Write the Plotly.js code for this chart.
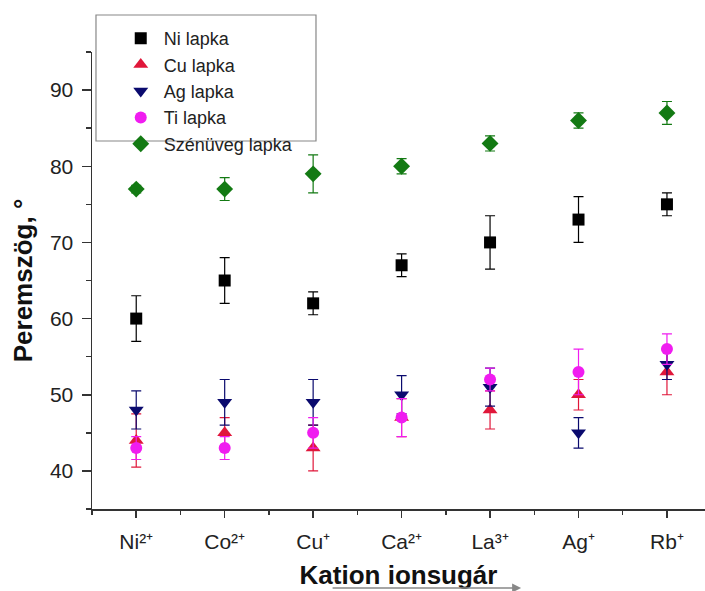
<!DOCTYPE html>
<html>
<head>
<meta charset="utf-8">
<script src="https://cdn.plot.ly/plotly-3.0.1.min.js"></script>
<style>html,body{margin:0;padding:0;background:#fff;}#chart{width:705px;height:591px;}</style>
</head>
<body>
<div id="chart"></div>
<script>
// Category labels (cations, ordered by ionic radius)
const cations = ['Ni²⁺','Co²⁺','Cu⁺','Ca²⁺','La³⁺','Ag⁺','Rb⁺'];
const xIdx = [0,1,2,3,4,5,6];

// Contact angle values (degrees) and error bars per electrode
const niLapka = [60,65,62,67,70,73,75];
const niErr   = [3,3,1.5,1.5,3.5,3,1.5];
const cuLapka = [44,45,43,47,48,50,53];
const cuErr   = [3.5,2,3,2.5,2.5,2,3];
const agLapka = [48,49,49,50,51,45,54];
const agErr   = [2.5,3,3,2.5,2.5,2,2];
const tiLapka = [43,43,45,47,52,53,56];
const tiErr   = [1.5,1.5,2,2.5,1.5,3,2];
const szLapka = [77,77,79,80,83,86,87];
const szErr   = [0.5,1.5,2.5,1,1,1,1.5];

const seriesNames = ['Ni lapka','Cu lapka','Ag lapka','Ti lapka','Szénüveg lapka'];

function tr(name, y, err, symbol, color, size){
  return {
    type:'scatter', mode:'markers', name:name, x:xIdx, y:y,
    marker:{symbol:symbol, color:color, size:size},
    error_y:{type:'data', array:err, visible:true, color:color, thickness:1.2, width:5}
  };
}

const data = [
  tr(seriesNames[0], niLapka, niErr, 'square', '#000000', 12),
  tr(seriesNames[1], cuLapka, cuErr, 'triangle-up', '#e0173a', 13),
  tr(seriesNames[2], agLapka, agErr, 'triangle-down', '#0a0a6e', 13),
  tr(seriesNames[3], tiLapka, tiErr, 'circle', '#f01cf0', 12),
  tr(seriesNames[4], szLapka, szErr, 'diamond', '#137a13', 13)
];

const fam = '"Liberation Sans", Arial, sans-serif';

const layout = {
  width:705, height:591,
  margin:{l:92, r:0, t:52, b:82, pad:0},
  paper_bgcolor:'#fff', plot_bgcolor:'#fff',
  font:{family:fam, color:'#222'},
  showlegend:true,
  legend:{x:0.042, y:1.070, xanchor:'left', yanchor:'top',
    bgcolor:'rgba(0,0,0,0)', borderwidth:0,
    font:{family:fam, size:18, color:'#222'},
    tracegroupgap:0, itemwidth:36},
  xaxis:{
    range:[-0.5, 6.43], tickmode:'array', tickvals:xIdx, ticktext:cations,
    showgrid:false, zeroline:false, showline:true, linecolor:'#333', linewidth:1.5,
    ticks:'outside', ticklen:7, tickwidth:1.5, tickcolor:'#333',
    tickfont:{family:fam, size:21, color:'#222'},
    ticklabelstandoff:6,
    minor:{tickmode:'linear', tick0:0.5, dtick:1, ticks:'outside', ticklen:4, tickwidth:1.5, tickcolor:'#333'},
    title:{text:'<b>Kation ionsugár</b>', font:{family:fam, size:26, color:'#111'}, standoff:14}
  },
  yaxis:{
    range:[35, 95], tickmode:'linear', tick0:40, dtick:10,
    showgrid:false, zeroline:false, showline:true, linecolor:'#333', linewidth:1.5,
    ticks:'outside', ticklen:9, tickwidth:1.5, tickcolor:'#333',
    tickfont:{family:fam, size:21, color:'#222'},
    ticklabelstandoff:4,
    minor:{dtick:5, ticks:'outside', ticklen:5, tickwidth:1.5, tickcolor:'#333'},
    title:{text:'<b>Peremszög, °</b>', font:{family:fam, size:26, color:'#111'}, standoff:10}
  },
  shapes:[
    {type:'rect', xref:'paper', yref:'paper', x0:0.0065, x1:0.3654, y0:0.8053, y1:1.081,
     line:{color:'#888', width:1.2}, fillcolor:'rgba(0,0,0,0)', layer:'below'}
  ],
  annotations:[
    {xref:'paper', yref:'paper', x:0.70, y:-0.173, ax:-190, ay:0, text:'',
     showarrow:true, arrowhead:2, arrowsize:1.2, arrowwidth:1.5, arrowcolor:'#888'}
  ]
};

Plotly.newPlot('chart', data, layout, {displayModeBar:false, staticPlot:true});
</script>
</body>
</html>
